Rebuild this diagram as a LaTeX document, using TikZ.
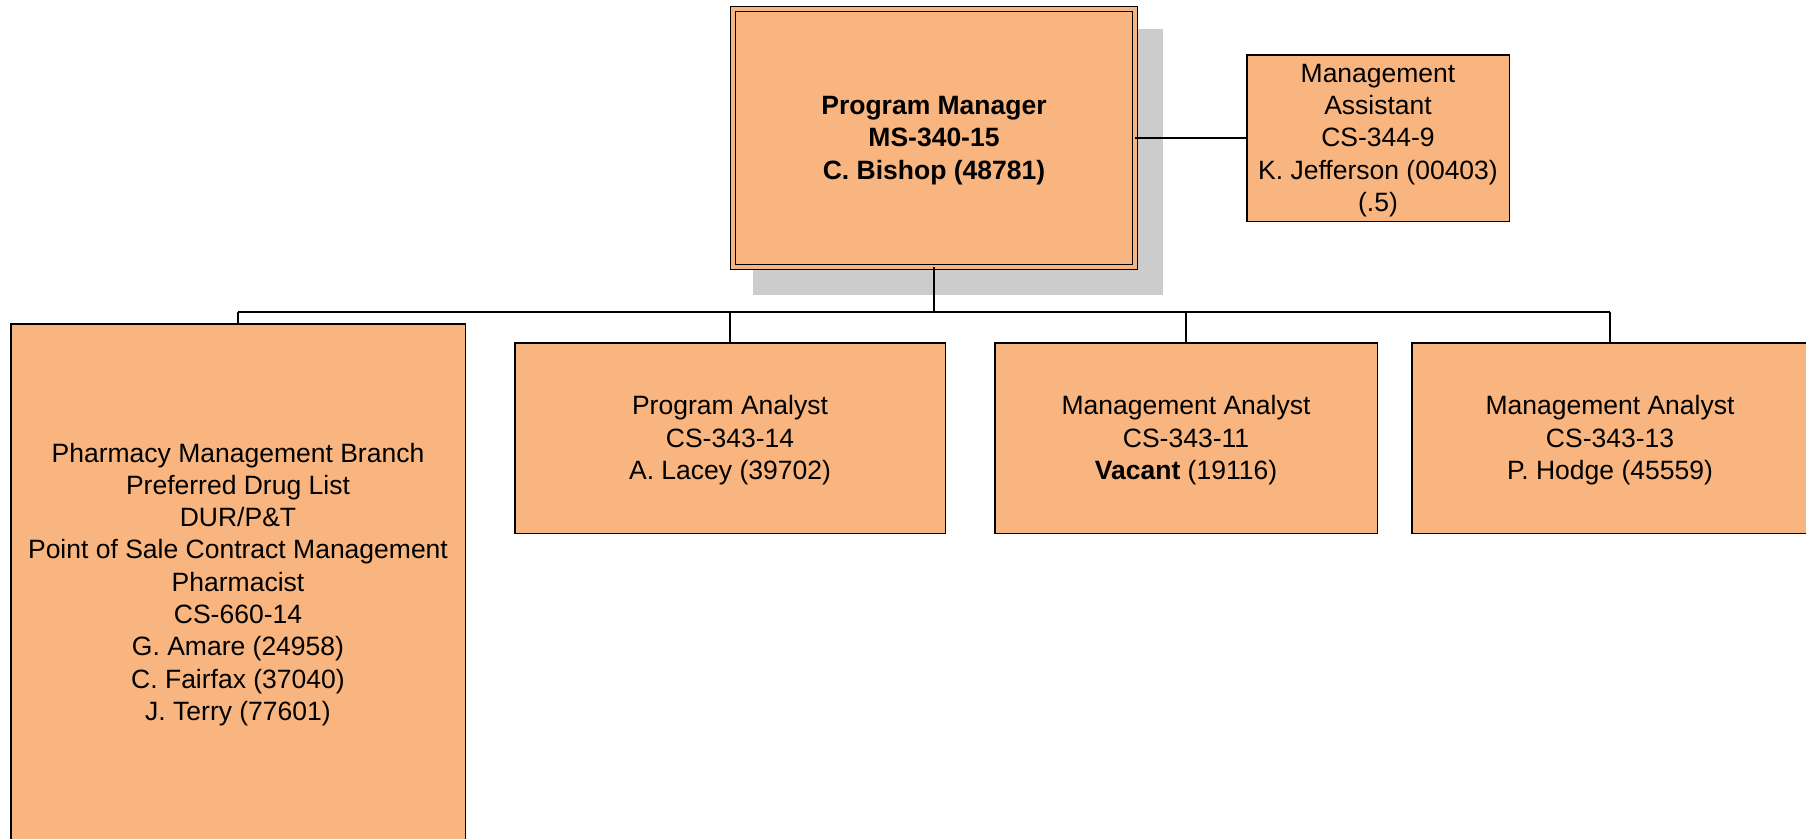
\documentclass[tikz,border=0pt]{standalone}
\usepackage{fontspec}
\setmainfont{Liberation Sans}
\definecolor{boxfill}{RGB}{248,181,127}
\definecolor{shadowgray}{RGB}{204,204,204}
\begin{document}
\begin{tikzpicture}[x=1pt,y=-1pt,
  orgbox/.style={draw=black, line width=1.5pt, fill=boxfill, rectangle, inner sep=0pt, outer sep=0pt},
  boxtext/.style={inner sep=0pt, align=center, font=\fontsize{26.5}{32.3}\selectfont},
  link/.style={draw=black, line width=1.5pt}]
\useasboundingbox (0,0) rectangle (1806,838);
\clip (0,0) rectangle (1806,838);
% shadow of the manager box
\fill[shadowgray] (753,29.3) rectangle (1162.7,294.7);
% boxes
\node[orgbox, double=boxfill, double distance=3.2pt, line width=1.7pt,
      minimum width=402pt, minimum height=258pt] (pm) at (934,138) {};
\node[orgbox, minimum width=262.5pt, minimum height=166.5pt] (ma) at (1378,138) {};
\node[orgbox, minimum width=454.5pt, minimum height=516pt] (ph) at (238,582) {};
\node[orgbox, minimum width=430.5pt, minimum height=190.5pt] (pa) at (730,438) {};
\node[orgbox, minimum width=382.5pt, minimum height=190.5pt] (m1) at (1186,438) {};
\node[orgbox, minimum width=396.5pt, minimum height=190.5pt] (m2) at (1610,438) {};
% texts
\node[boxtext, font=\fontsize{26.5}{32.3}\selectfont\bfseries] (pmt) at ([yshift=-2.4pt]pm.center)
  {Program Manager\\MS-340-15\\C. Bishop (48781)};
\node[boxtext] (mat) at ([yshift=-2.4pt]ma.center)
  {Management\\Assistant\\CS-344-9\\K. Jefferson (00403)\\(.5)};
\node[boxtext] (pht) at ([yshift=-2.4pt]ph.center)
  {Pharmacy Management Branch\\Preferred Drug List\\DUR/P\&T\\Point of Sale Contract Management\\Pharmacist\\CS-660-14\\G. Amare (24958)\\C. Fairfax (37040)\\J. Terry (77601)};
\node[boxtext] (pat) at ([yshift=-2.4pt]pa.center)
  {Program Analyst\\CS-343-14\\A. Lacey (39702)};
\node[boxtext] (m1t) at ([yshift=-2.4pt]m1.center)
  {Management Analyst\\CS-343-11\\\textbf{Vacant} (19116)};
\node[boxtext] (m2t) at ([yshift=-2.4pt]m2.center)
  {Management Analyst\\CS-343-13\\P. Hodge (45559)};
% connectors
\coordinate (busL) at (238,312);
\coordinate (busR) at (1610,312);
\draw[link] (busL) -- (busR);
\draw[link] (pm.south) -- (pm.south |- busL);
\draw[link] (ph.north) -- (ph.north |- busL);
\draw[link] (pa.north) -- (pa.north |- busL);
\draw[link] (m1.north) -- (m1.north |- busL);
\draw[link] (m2.north) -- (m2.north |- busL);
\draw[link] (pm.east) -- (ma.west);
\end{tikzpicture}
\end{document}
